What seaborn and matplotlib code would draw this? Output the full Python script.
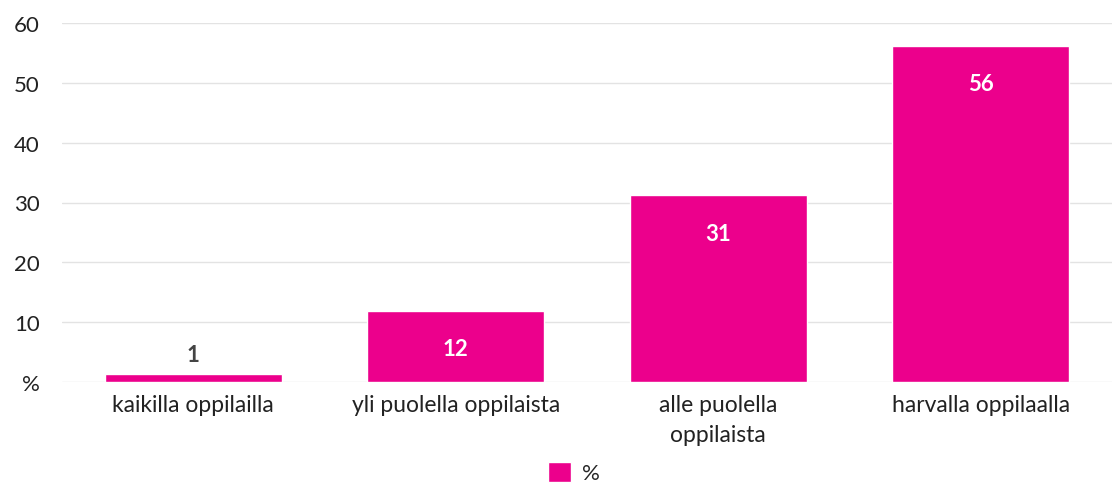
import matplotlib
matplotlib.use("Agg")
import matplotlib.pyplot as plt
import seaborn as sns
import pandas as pd
from matplotlib.patches import Patch

categories = ["kaikilla oppilailla", "yli puolella oppilaista", "alle puolella\noppilaista", "harvalla oppilaalla"]
values = [1.3, 11.9, 31.2, 56.2]
labels = ["1", "12", "31", "56"]
yticks = [0, 10, 20, 30, 40, 50, 60]
yticklabels = ["%", "10", "20", "30", "40", "50", "60"]
series_name = "%"
color = "#EC008C"

sns.set_theme(style="white")
plt.rcParams["font.family"] = ["Lato", "DejaVu Sans"]

df = pd.DataFrame({"cat": categories, "val": values})
fig = plt.figure(figsize=(11.12, 4.85), dpi=100)
ax = fig.add_axes([62/1112, 1-383/485, 1050/1112, 359/485])
sns.barplot(data=df, x="cat", y="val", color=color, saturation=1, width=0.675, ax=ax)

ax.set_ylim(0, 60)
ax.set_xlim(-0.5, 3.5)
ax.set_yticks(yticks)
ax.set_yticklabels(yticklabels, fontsize=16, color="#222222")
ax.yaxis.grid(True, color="#e3e3e3", linewidth=1)
ax.set_axisbelow(True)
for s in ax.spines.values():
    s.set_visible(False)
ax.tick_params(axis="y", length=0, pad=16)
ax.tick_params(axis="x", length=0, pad=9, labelsize=16.5, labelcolor="#222222")
for lab in ax.get_xticklabels():
    lab.set_linespacing(1.5)
ax.set_xlabel("")
ax.set_ylabel("")

for i, (v, t) in enumerate(zip(values, labels)):
    if v < 5:
        ax.text(i, v + 1.5, t, ha="center", va="bottom", fontsize=16, color="#444444", fontweight="bold")
    else:
        ax.text(i, v - 6.3, t, ha="center", va="center", fontsize=16, color="white", fontweight="bold")

fig.legend(handles=[Patch(facecolor=color, label=series_name)], loc="lower center",
           bbox_to_anchor=(0.516, -0.04), frameon=False, fontsize=16, handlelength=1.05,
           handleheight=1.05, handletextpad=0.5)

fig.savefig("out.png", dpi=100)
